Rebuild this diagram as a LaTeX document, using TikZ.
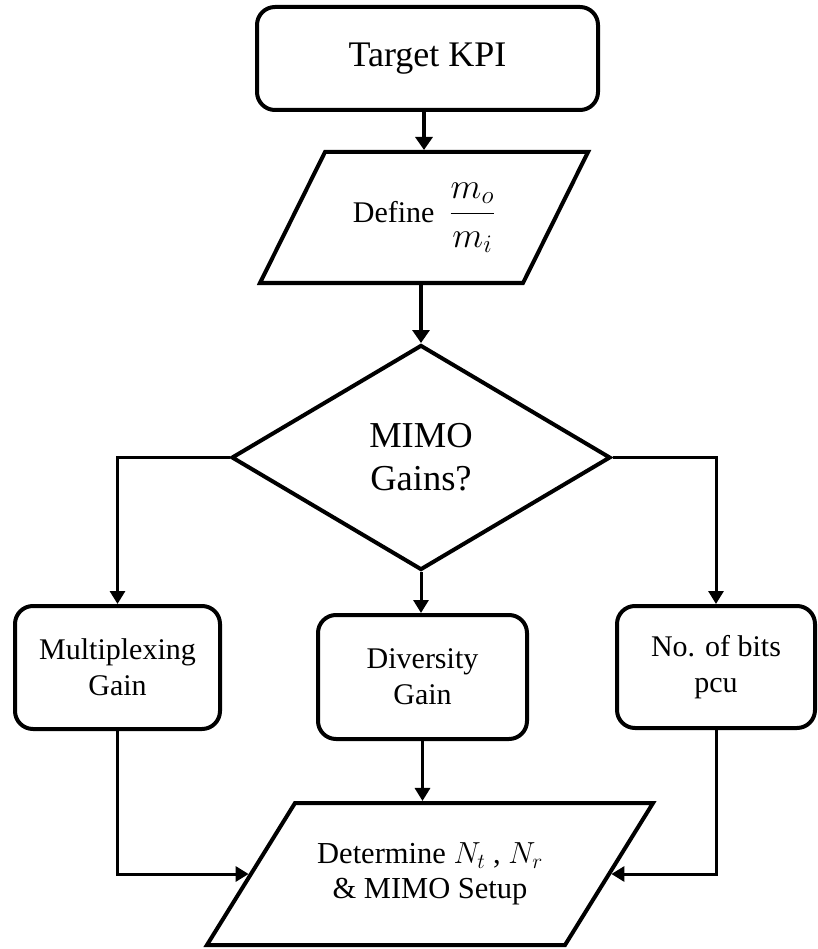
\RequirePackage{fix-cm}
\documentclass[tikz,border=0pt]{standalone}
\usepackage{amsmath}
\usepackage{fontspec}
\setmainfont{Liberation Serif}
\usetikzlibrary{arrows.meta, shapes.geometric}
% fixed size body for the slanted boxes
\newcommand{\paratext}[3]{\parbox[c][#2][c]{#1}{\centering #3}}

\begin{document}
\begin{tikzpicture}[x=1pt, y=-1pt,
  blk/.style={draw, line width=4pt, rounded corners=18pt, align=center, inner sep=0pt},
  para/.style={draw, line width=4pt, trapezium, inner sep=0pt},
  arr/.style={line width=3pt, -{Triangle[width=15pt, length=13pt]}}]
\useasboundingbox (0,0) rectangle (817,949);
\node[blk, minimum width=341, minimum height=103, font=\fontsize{36}{43}\selectfont] (kpi) at (427.5,58.5) {Target KPI};
\node[para, trapezium left angle=63.6, trapezium right angle=116.4] (def) at (424,217.5)
  {\paratext{198pt}{131pt}{\fontsize{30}{36}\selectfont Define\enspace{\fontsize{36}{43}\selectfont$\dfrac{m_o}{m_i}$}}};
\node[draw, diamond, line width=4pt, minimum width=379, minimum height=225, inner sep=0pt, align=center,
  font=\fontsize{36.5}{43}\selectfont] (gain) at (421,457.5) {MIMO\\Gains?};
\node[blk, minimum width=205, minimum height=123, font=\fontsize{30}{36}\selectfont] (mux) at (117.5,667.5) {Multiplexing\\Gain};
\node[blk, minimum width=209, minimum height=124, font=\fontsize{30}{36}\selectfont] (div) at (422.5,677) {Diversity\\Gain};
\node[blk, minimum width=198, minimum height=122, font=\fontsize{30}{36}\selectfont] (bits) at (716,667) {No. of bits\\pcu};
\node[para, trapezium left angle=58.2, trapezium right angle=121.8] (det) at (430,874)
  {\paratext{270pt}{142pt}{\fontsize{30.5}{35}\selectfont Determine $N_t$ , $N_r$\\\& MIMO Setup}};
% connectors
\draw[arr, line width=4pt, -{Triangle[width=17pt, length=13pt]}] (kpi.south -| def.north) -- (def.north);
\draw[arr, line width=4pt, -{Triangle[width=17pt, length=13pt]}] (def.south -| gain.north) -- (gain.north);
\draw[arr] (gain.west) -| (mux.north);
\draw[arr] (gain.east) -| (bits.north);
\draw[arr] (gain.south) -- (gain.south |- div.north);
\draw[arr] (mux.south) |- (det);
\draw[arr] (bits.south) |- (det);
\draw[arr] (div.south) -- (div.south |- det.north);
\end{tikzpicture}
\end{document}
